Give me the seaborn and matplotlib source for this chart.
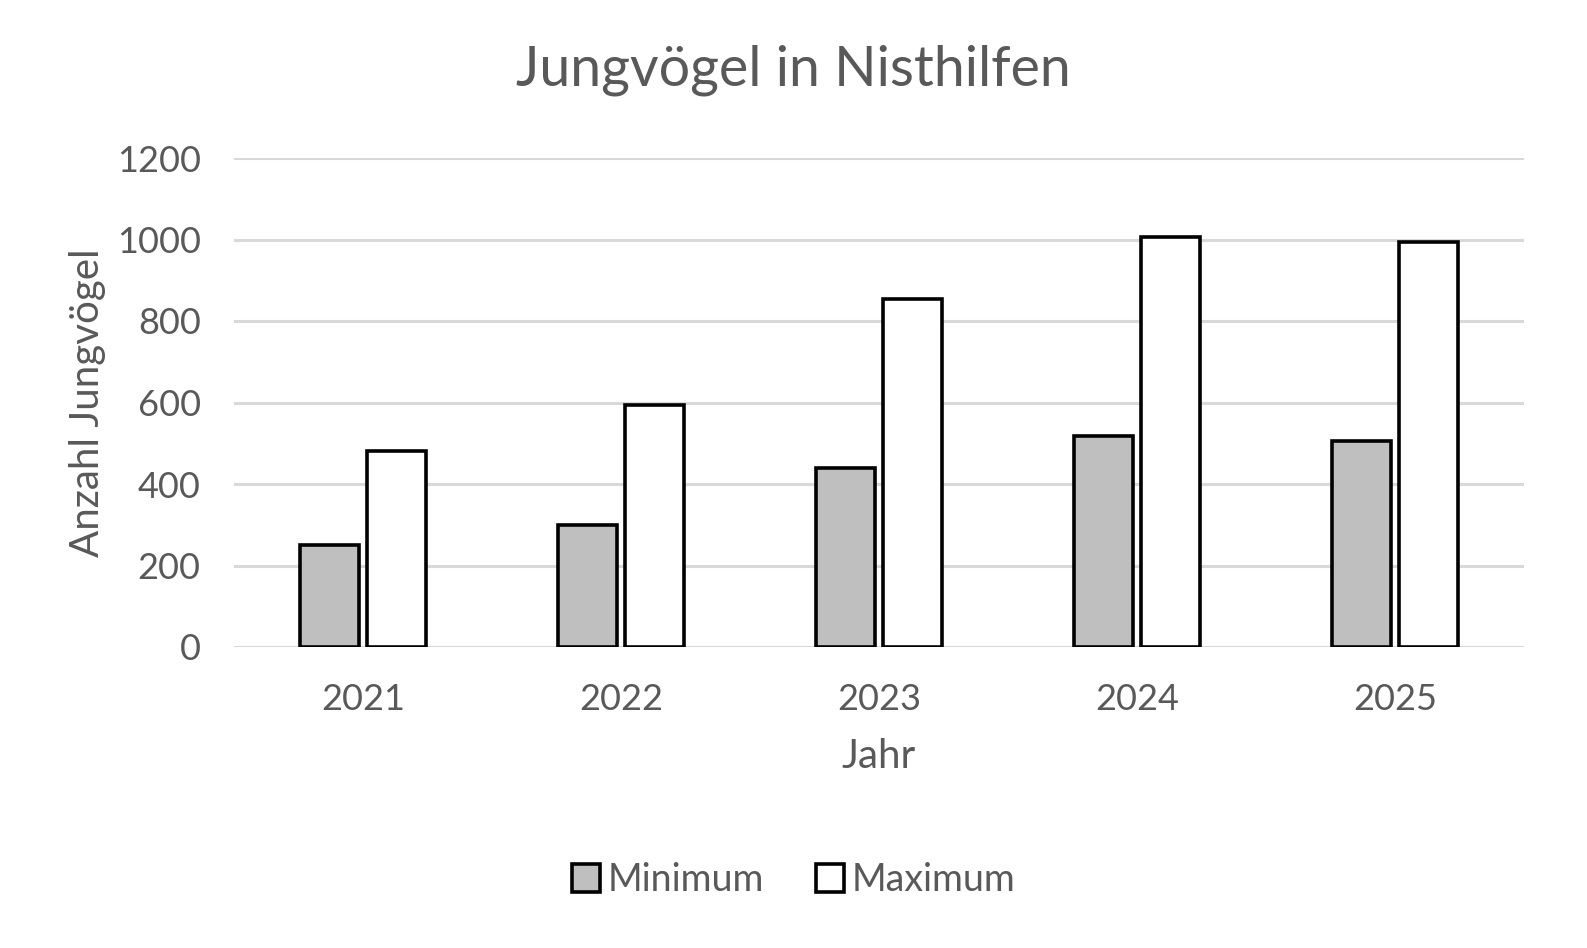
import numpy as np
import pandas as pd
import matplotlib
matplotlib.use("Agg")
import matplotlib.pyplot as plt
import seaborn as sns

############### Data ##################################
jahre = ["2021", "2022", "2023", "2024", "2025"]
minimum = [250, 300, 440, 518, 505]
maximum = [480, 595, 855, 1005, 995]
yticks = [0, 200, 400, 600, 800, 1000, 1200]

df = pd.DataFrame({"Jahr": jahre, "Minimum": minimum, "Maximum": maximum})
df_long = df.melt(id_vars="Jahr", var_name="Serie", value_name="Anzahl")

############### Style ##################################
sns.set_theme(style="white")
plt.rcParams['font.family'] = ['Lato', 'DejaVu Sans']
text_col = "#595959"

fig = plt.figure(figsize=(15.87, 9.48), dpi=100)
ax = fig.add_axes([234 / 1587, 1 - 647 / 948, (1524 - 234) / 1587, (647 - 158) / 948])

sns.barplot(data=df_long, x="Jahr", y="Anzahl", hue="Serie",
            palette={"Minimum": "#bfbfbf", "Maximum": "#ffffff"},
            width=0.52, gap=0.11, edgecolor="black", linewidth=2.6,
            ax=ax, zorder=3)

ax.set_ylim(0, 1200)
ax.set_yticks(yticks)
ax.set_xlim(-0.5, len(jahre) - 0.5)
ax.yaxis.grid(True, color="#d9d9d9", linewidth=2.2, zorder=0)
ax.set_axisbelow(True)
for s in ax.spines.values():
    s.set_visible(False)
ax.tick_params(axis="both", length=0, labelsize=26, labelcolor=text_col)
ax.tick_params(axis="x", pad=26)
ax.tick_params(axis="y", pad=24)

ax.set_xlabel("Jahr", fontsize=29, color=text_col, labelpad=16)
ax.set_ylabel("Anzahl Jungvögel", fontsize=29, color=text_col, labelpad=8)
fig.text(0.5, 1 - 70 / 948, "Jungvögel in Nisthilfen", ha="center", va="center",
         fontsize=40, color=text_col)

ax.get_legend().remove()
handles, labels = ax.get_legend_handles_labels()
leg = fig.legend(handles, labels, loc="center", bbox_to_anchor=(0.5, 1 - 880 / 948),
                 ncol=2, frameon=False, fontsize=27, handlelength=0.75, handleheight=0.75,
                 handletextpad=0.2, columnspacing=1.4)
for t in leg.get_texts():
    t.set_color(text_col)

fig.savefig("out.png", dpi=100)
